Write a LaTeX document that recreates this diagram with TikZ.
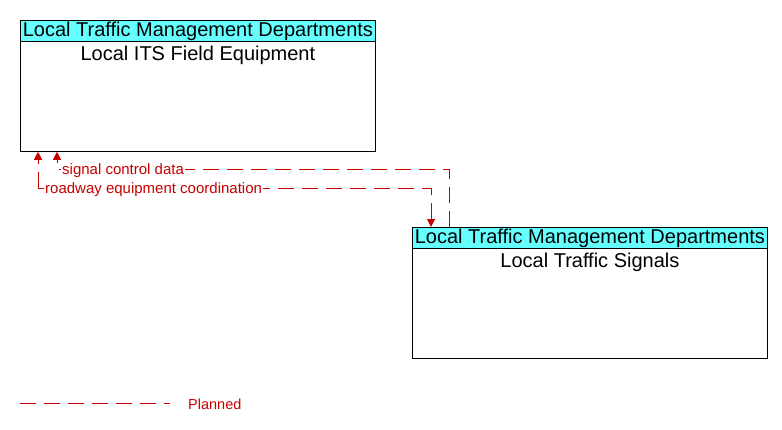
\documentclass[tikz,border=0pt]{standalone}
\usepackage{fontspec}
\setmainfont{Liberation Sans}
\usetikzlibrary{arrows.meta,calc}
\definecolor{flowred}{RGB}{200,0,0}
\definecolor{hdrcyan}{RGB}{102,255,255}
\tikzset{
  body/.style={draw=black, line width=0.8pt, fill=white, minimum width=355pt, minimum height=131pt, anchor=north west, inner sep=0pt},
  hdr/.style={draw=black, line width=0.8pt, fill=hdrcyan, minimum width=355pt, minimum height=21pt, anchor=north west, inner sep=0pt, font=\fontsize{20}{22}\selectfont},
  ttl/.style={anchor=north, inner sep=0pt, font=\fontsize{20}{22}\selectfont},
  planned/.style={draw=flowred, line width=1pt, dash pattern=on 16pt off 8pt},
  tip/.style={-{Triangle[width=8pt,length=8pt]}},
  flowlbl/.style={text=flowred, fill=white, inner sep=1pt, anchor=west, font=\fontsize{15}{17}\selectfont},
}
\begin{document}
\begin{tikzpicture}[x=1pt,y=-1pt]
\useasboundingbox (0,0) rectangle (782,429);
% boxes
\node[body] (box1) at (20,20) {};
\node[hdr] (hdr1) at (20,20) {Local Traffic Management Departments};
\node[ttl] (ttl1) at ($(hdr1.south)+(0,4)$) {Local ITS Field Equipment};
\node[body] (box2) at (412,227) {};
\node[hdr] (hdr2) at (412,227) {Local Traffic Management Departments};
\node[ttl] (ttl2) at ($(hdr2.south)+(0,4)$) {Local Traffic Signals};
% anchor points
\coordinate (a1) at ($(box1.south west)+(37,0)$);
\coordinate (a2) at ($(box2.north west)+(37,0)$);
\coordinate (b1) at ($(box1.south west)+(18,0)$);
\coordinate (b2) at ($(box2.north west)+(19,0)$);
% signal control data
\draw[planned,tip] (a2) |- (57,169) -- (a1);
\node[flowlbl] (l1) at (61,171) {signal control data};
% roadway equipment coordination
\draw[planned,tip] (38,188) -- (b1);
\draw[planned,tip] (38,188) -| (b2);
\node[flowlbl] (l2) at (44,190) {roadway equipment coordination};
% legend
\coordinate (lg1) at (20,403);
\coordinate (lg2) at (170,403);
\draw[planned] (lg1) -- (lg2);
\node[text=flowred, anchor=west, inner sep=0pt, font=\fontsize{14.5}{16}\selectfont] (lgt) at (188,404) {Planned};
\end{tikzpicture}
\end{document}
